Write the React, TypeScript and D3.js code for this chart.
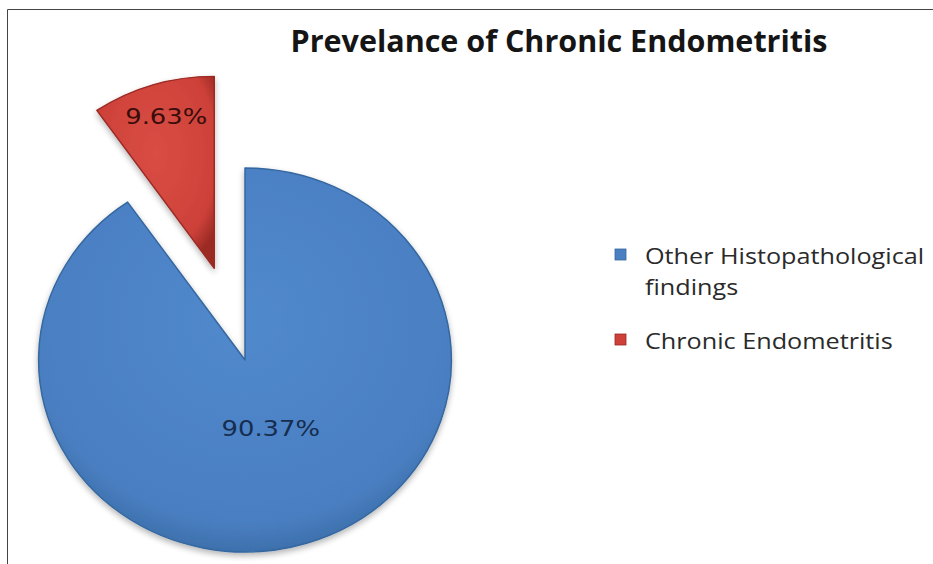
import React from "react";
import * as d3 from "d3";

const categories = ["Other Histopathological findings", "Chronic Endometritis"];
const values = [90.37, 9.63];
const valueLabels = ["90.37%", "9.63%"];
const legendLines = [["Other Histopathological", "findings"], ["Chronic Endometritis"]];
const title = "Prevelance of Chronic Endometritis";

const W = 933;
const H = 564;
const cx = 245;
const cy = 360;
const R = 192;
const sx = 1.075; // horizontal stretch of the pie in the original picture
const tx = 1.2; // horizontal stretch of the small text
const explode = [0, 96];
const labelR = [0.37, 0.83];
const baseColors = ["#4a7fc2", "#cd4139"];
const lightColors = ["#5089cc", "#d94d44"];
const darkColors = ["#35679f", "#9a2a24"];

export default function App() {
  const pie = d3.pie<number>().sort(null).value((d) => d)(values);
  const arc = d3.arc<d3.PieArcDatum<number>>().innerRadius(0).outerRadius(R);

  return (
    <svg width={W} height={H} style={{ position: "absolute", left: 0, top: 0, background: "#fff" }}>
      <defs>
        {baseColors.map((c, i) => (
          <radialGradient key={i} id={`g${i}`} cx="50%" cy="40%" r="65%">
            <stop offset="0%" stopColor={lightColors[i]} />
            <stop offset="80%" stopColor={c} />
            <stop offset="100%" stopColor={darkColors[i]} />
          </radialGradient>
        ))}
        <filter id="sh" x="-20%" y="-20%" width="140%" height="140%">
          <feGaussianBlur in="SourceAlpha" stdDeviation="3" />
          <feOffset dx="0" dy="3" result="b" />
          <feComponentTransfer>
            <feFuncA type="linear" slope="0.3" />
          </feComponentTransfer>
          <feMerge>
            <feMergeNode />
            <feMergeNode in="SourceGraphic" />
          </feMerge>
        </filter>
      </defs>
      <rect x={0} y={0} width={W} height={H} fill="#fff" />
      <path d={`M7.5,${H} V9.5 H${W}`} fill="none" stroke="#444" strokeWidth={1} />
      <text
        x={559}
        y={52}
        textAnchor="middle"
        fontFamily="'Open Sans', sans-serif"
        fontWeight="bold"
        fontSize={30.5}
        fill="#151515"
      >
        {title}
      </text>
      {pie.map((p, i) => {
        const mid = (p.startAngle + p.endAngle) / 2;
        const ox = Math.sin(mid) * explode[i] * sx;
        const oy = -Math.cos(mid) * explode[i];
        const lr = R * labelR[i];
        const lx = Math.sin(mid) * lr * sx;
        const ly = -Math.cos(mid) * lr;
        return (
          <g key={i} transform={`translate(${cx + ox},${cy + oy})`}>
            <g transform={`scale(${sx},1)`}>
              <path
                d={arc(p) || ""}
                fill={`url(#g${i})`}
                stroke={darkColors[i]}
                strokeWidth={1.4}
                strokeLinejoin="round"
                filter="url(#sh)"
              />
            </g>
            <text
              transform={`translate(${lx + 3},${ly}) scale(${tx},1)`}
              dy="0.36em"
              textAnchor="middle"
              fontFamily="'DejaVu Sans', sans-serif"
              fontSize={21.5}
              fill={i === 0 ? "#172d4f" : "#3a0d0b"}
            >
              {valueLabels[i]}
            </text>
          </g>
        );
      })}
      {categories.map((c, i) => {
        const y0 = i === 0 ? 256 : 341;
        return (
          <g key={c}>
            <rect x={615} y={y0 - 7} width={11} height={11} fill={baseColors[i]} stroke={darkColors[i]} strokeWidth={0.8} />
            {legendLines[i].map((t, j) => (
              <text
                key={j}
                transform={`translate(645,${y0 + 8 + j * 31}) scale(${tx},1)`}
                fontFamily="'Open Sans', sans-serif"
                fontSize={21}
                fontWeight={500}
                fill="#2a2a2a"
              >
                {t}
              </text>
            ))}
          </g>
        );
      })}
    </svg>
  );
}
